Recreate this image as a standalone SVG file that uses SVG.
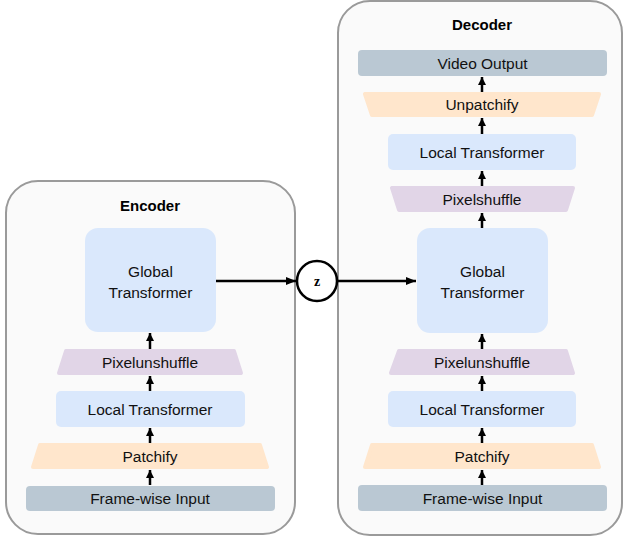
<svg xmlns="http://www.w3.org/2000/svg" width="624" height="537" viewBox="0 0 624 537">
  <style>
    .panel { fill: #fafafa; stroke: #9a9a9a; stroke-width: 2; }
    .title { font-family: "Liberation Sans", Arial, sans-serif; font-size: 15px; font-weight: bold; fill: #000; text-anchor: middle; dominant-baseline: central; }
    .lbl { font-family: "Liberation Sans", Arial, sans-serif; font-size: 15.5px; fill: #111; text-anchor: middle; dominant-baseline: central; }
    .blue { fill: #dae8fc; }
    .purple { fill: #e1d5e7; stroke: #e1d5e7; stroke-width: 4; stroke-linejoin: round; }
    .peach { fill: #ffe6cc; stroke: #ffe6cc; stroke-width: 4; stroke-linejoin: round; }
    .slate { fill: #bac8d3; }
    .edge { fill: none; stroke: #000; stroke-width: 2.5; }
    .zc { fill: #fff; stroke: #000; stroke-width: 2.5; }
    .z { font-family: "Liberation Serif", "Times New Roman", serif; font-size: 14px; font-weight: bold; fill: #000; text-anchor: middle; dominant-baseline: central; }
  </style>
  <defs>
    <marker id="head" markerUnits="userSpaceOnUse" markerWidth="11" markerHeight="9" refX="10" refY="4.5" orient="auto">
      <path d="M0,0.5 L10,4.5 L0,8.5 z" fill="#000"/>
    </marker>
    <marker id="headSm" markerUnits="userSpaceOnUse" markerWidth="9" markerHeight="9" refX="8" refY="4.5" orient="auto">
      <path d="M0,0.5 L8,4.5 L0,8.5 z" fill="#000"/>
    </marker>
  </defs>

  <rect width="624" height="537" fill="#fff"/>

  <!-- Encoder panel -->
  <g id="encoder">
    <rect class="panel" x="6" y="181" width="289" height="353" rx="32"/>
    <text class="title" x="150" y="205">Encoder</text>
  </g>

  <!-- Decoder panel -->
  <g id="decoder">
    <rect class="panel" x="338" y="1" width="284" height="534" rx="32"/>
    <text class="title" x="482" y="24">Decoder</text>
  </g>

  <!-- Encoder stack -->
  <g id="enc-input">
    <rect class="slate" x="26" y="486" width="249" height="25" rx="4"/>
    <text class="lbl" x="150" y="498.5">Frame-wise Input</text>
  </g>
  <g id="enc-patchify">
    <polygon class="peach" points="40,445 260,445 267,467 33,467"/>
    <text class="lbl" x="150" y="456">Patchify</text>
  </g>
  <g id="enc-local">
    <rect class="blue" x="56" y="391" width="189" height="36" rx="5"/>
    <text class="lbl" x="150" y="409">Local Transformer</text>
  </g>
  <g id="enc-pixelunshuffle">
    <polygon class="purple" points="66,351 234,351 241,373 59,373"/>
    <text class="lbl" x="150" y="362">Pixelunshuffle</text>
  </g>
  <g id="enc-global">
    <rect class="blue" x="85" y="228" width="131" height="104" rx="13"/>
    <text class="lbl" x="150.5" y="271">Global</text>
    <text class="lbl" x="150.5" y="292">Transformer</text>
  </g>

  <!-- Latent -->
  <g id="latent">
    <circle class="zc" cx="317" cy="281" r="20"/>
    <text class="z" x="317" y="281">z</text>
  </g>

  <!-- Decoder stack -->
  <g id="dec-input">
    <rect class="slate" x="358" y="485" width="249" height="26" rx="4"/>
    <text class="lbl" x="482.5" y="498">Frame-wise Input</text>
  </g>
  <g id="dec-patchify">
    <polygon class="peach" points="372,445 592,445 599,467 365,467"/>
    <text class="lbl" x="482" y="456">Patchify</text>
  </g>
  <g id="dec-local-low">
    <rect class="blue" x="388" y="391" width="188" height="36" rx="5"/>
    <text class="lbl" x="482" y="409">Local Transformer</text>
  </g>
  <g id="dec-pixelunshuffle">
    <polygon class="purple" points="399,351 566,351 573,373 391,373"/>
    <text class="lbl" x="482" y="362">Pixelunshuffle</text>
  </g>
  <g id="dec-global">
    <rect class="blue" x="417" y="228" width="131" height="105" rx="13"/>
    <text class="lbl" x="482.5" y="271">Global</text>
    <text class="lbl" x="482.5" y="292">Transformer</text>
  </g>
  <g id="dec-pixelshuffle">
    <polygon class="purple" points="392,188 573,188 566,210 399,210"/>
    <text class="lbl" x="482" y="199">Pixelshuffle</text>
  </g>
  <g id="dec-local-high">
    <rect class="blue" x="388" y="134" width="188" height="36" rx="5"/>
    <text class="lbl" x="482" y="152">Local Transformer</text>
  </g>
  <g id="dec-unpatchify">
    <polygon class="peach" points="365,94 599,94 592,115 372,115"/>
    <text class="lbl" x="482" y="104.5">Unpatchify</text>
  </g>
  <g id="dec-output">
    <rect class="slate" x="358" y="50" width="249" height="26" rx="4"/>
    <text class="lbl" x="482.5" y="63">Video Output</text>
  </g>

  <!-- Connectors -->
  <g id="connectors">
    <line class="edge" x1="150" y1="485" x2="150" y2="470" marker-end="url(#headSm)"/>
    <line class="edge" x1="150" y1="443" x2="150" y2="428" marker-end="url(#headSm)"/>
    <line class="edge" x1="150" y1="391" x2="150" y2="376" marker-end="url(#headSm)"/>
    <line class="edge" x1="150" y1="349" x2="150" y2="333" marker-end="url(#headSm)"/>
    <line class="edge" x1="216" y1="281" x2="296" y2="281" marker-end="url(#head)"/>
    <line class="edge" x1="337" y1="281" x2="416" y2="281" marker-end="url(#head)"/>
    <line class="edge" x1="482" y1="485" x2="482" y2="470" marker-end="url(#headSm)"/>
    <line class="edge" x1="482" y1="443" x2="482" y2="428" marker-end="url(#headSm)"/>
    <line class="edge" x1="482" y1="391" x2="482" y2="376" marker-end="url(#headSm)"/>
    <line class="edge" x1="482" y1="349" x2="482" y2="334" marker-end="url(#headSm)"/>
    <line class="edge" x1="482" y1="228" x2="482" y2="213" marker-end="url(#headSm)"/>
    <line class="edge" x1="482" y1="186" x2="482" y2="171" marker-end="url(#headSm)"/>
    <line class="edge" x1="482" y1="134" x2="482" y2="118" marker-end="url(#headSm)"/>
    <line class="edge" x1="482" y1="92" x2="482" y2="77" marker-end="url(#headSm)"/>
  </g>
</svg>
